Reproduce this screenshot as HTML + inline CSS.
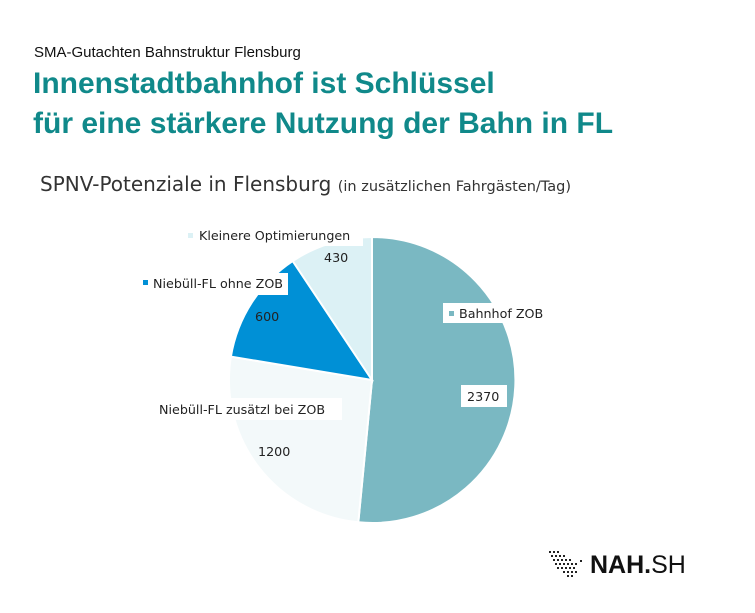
<!DOCTYPE html>
<html><head><meta charset="utf-8"><style>
body{margin:0;background:#fff;width:755px;height:613px;overflow:hidden;position:relative;font-family:"Liberation Sans",sans-serif}
.t{position:absolute;white-space:nowrap}
</style></head><body>
<div class="t" style="left:34px;top:44px;font-size:15px;color:#111">SMA-Gutachten Bahnstruktur Flensburg</div>
<div class="t" style="left:33px;top:64px;font-size:30px;font-weight:bold;color:#10898a;line-height:40px">Innenstadtbahnhof ist Schlüssel<br>für eine stärkere Nutzung der Bahn in FL</div>
<div class="t" style="left:40px;top:172px;font-family:'DejaVu Sans',sans-serif;font-size:20px;color:#333">SPNV-Potenziale in Flensburg <span style="font-size:14.5px">(in zusätzlichen Fahrgästen/Tag)</span></div>
<svg width="755" height="613" style="position:absolute;left:0;top:0" font-family="DejaVu Sans, sans-serif" font-size="12.7">
<g stroke="#fff" stroke-width="2">
<path d="M372,380 L372,237 A143,143 0 1 1 358.3,522.3 Z" fill="#7ab8c2"/>
<path d="M372,380 L358.3,522.3 A143,143 0 0 1 230.9,356.6 Z" fill="#f3f9fa"/>
<path d="M372,380 L230.9,356.6 A143,143 0 0 1 292.7,261 Z" fill="#0090d6"/>
<path d="M372,380 L292.7,261 A143,143 0 0 1 372,237 Z" fill="#dcf1f5"/>
</g>
<rect x="183" y="226" width="180" height="20" fill="#fff"/>
<rect x="188" y="233" width="5" height="5" fill="#dcf1f5"/>
<text x="199" y="240" fill="#222">Kleinere Optimierungen</text>
<rect x="138" y="273" width="150" height="22" fill="#fff"/>
<rect x="143" y="280" width="5" height="5" fill="#0090d6"/>
<text x="153" y="288" fill="#222">Niebüll-FL ohne ZOB</text>
<rect x="443" y="303" width="110" height="20" fill="#fff"/>
<rect x="449" y="311" width="5" height="5" fill="#7ab8c2"/>
<text x="459" y="318" fill="#222">Bahnhof ZOB</text>
<rect x="150" y="398" width="192" height="22" fill="#fff"/>
<text x="159" y="414" fill="#222">Niebüll-FL zusätzl bei ZOB</text>
<text x="324" y="262" fill="#222">430</text>
<text x="255" y="321" fill="#222">600</text>
<rect x="461" y="385" width="46" height="22" fill="#fff"/>
<text x="467" y="401" fill="#222">2370</text>
<text x="258" y="456" fill="#222">1200</text>
<g fill="#222">
<rect x="549" y="551" width="2" height="2"/><rect x="553" y="551" width="2" height="2"/><rect x="557" y="551" width="2" height="2"/>
<rect x="551" y="555" width="2" height="2"/><rect x="555" y="555" width="2" height="2"/><rect x="559" y="555" width="2" height="2"/><rect x="563" y="555" width="2" height="2"/>
<rect x="553" y="559" width="2" height="2"/><rect x="557" y="559" width="2" height="2"/><rect x="561" y="559" width="2" height="2"/><rect x="565" y="559" width="2" height="2"/><rect x="569" y="559" width="2" height="2"/><rect x="580" y="560" width="2" height="2"/>
<rect x="555" y="563" width="2" height="2"/><rect x="559" y="563" width="2" height="2"/><rect x="563" y="563" width="2" height="2"/><rect x="567" y="563" width="2" height="2"/><rect x="571" y="563" width="2" height="2"/><rect x="575" y="563" width="2" height="2"/>
<rect x="557" y="567" width="2" height="2"/><rect x="561" y="567" width="2" height="2"/><rect x="565" y="567" width="2" height="2"/><rect x="569" y="567" width="2" height="2"/><rect x="573" y="567" width="2" height="2"/>
<rect x="563" y="571" width="2" height="2"/><rect x="567" y="571" width="2" height="2"/><rect x="571" y="571" width="2" height="2"/><rect x="575" y="571" width="2" height="2"/>
<rect x="567" y="575" width="2" height="2"/><rect x="571" y="575" width="2" height="2"/>
</g>
<text x="590" y="573" font-family="Liberation Sans, sans-serif" font-size="25" fill="#111"><tspan font-weight="bold">NAH</tspan><tspan font-weight="bold">.</tspan>SH</text>
</svg>
</body></html>
